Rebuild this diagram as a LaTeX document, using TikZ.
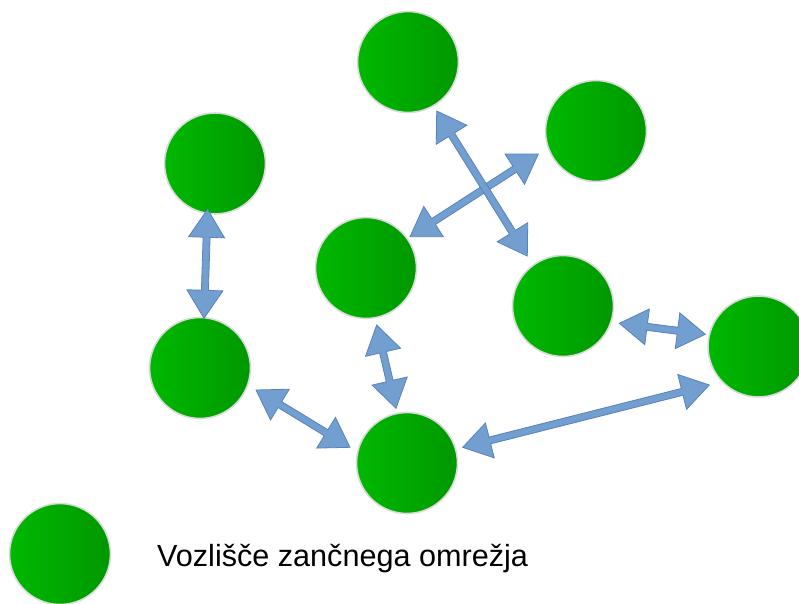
\documentclass[tikz,border=0pt]{standalone}
\usepackage{fontspec}
\setmainfont{Liberation Sans}
\usetikzlibrary{calc}
\definecolor{gleft}{RGB}{0,184,0}
\definecolor{gright}{RGB}{0,152,0}
\definecolor{rim}{RGB}{218,218,218}
\definecolor{arrfill}{RGB}{114,159,207}
\definecolor{arrline}{RGB}{88,130,190}
\tikzset{
  netnode/.style={circle, inner sep=0pt, minimum size=101pt, draw=rim, line width=1.6pt,
    left color=gleft, right color=gright},
  fatarrow/.style={fill=arrfill, draw=arrline, line width=0.8pt, line join=miter},
  legendtext/.style={anchor=base west, font=\fontsize{30.6}{36}\selectfont, text=black, inner sep=0pt}
}
\newcommand\fatarrowdraw[2]{%
  \path[fatarrow] let \p1=(#1), \p2=(#2),
      \n1={atan2(\y2-\y1,\x2-\x1)}, \n2={veclen(\x2-\x1,\y2-\y1)} in
    [shift={(\p1)}, rotate=\n1]
    (0,0) -- (28,18) -- (28,3.5) -- (\n2-28,3.5) -- (\n2-28,18) -- (\n2,0)
    -- (\n2-28,-18) -- (\n2-28,-3.5) -- (28,-3.5) -- (28,-18) -- cycle;}
\begin{document}
\begin{tikzpicture}[x=1pt,y=-1pt]
\useasboundingbox (0,0) rectangle (799,603);
% nodes
\node[netnode] (nA) at (408,62) {};
\node[netnode] (nB) at (596,131) {};
\node[netnode] (nC) at (215,163.5) {};
\node[netnode] (nD) at (366,268) {};
\node[netnode] (nE) at (563,306) {};
\node[netnode] (nF) at (758.5,346.5) {};
\node[netnode] (nG) at (200,368) {};
\node[netnode] (nH) at (407,463) {};
\node[netnode] (nL) at (60,554) {};
\node[legendtext] (nT) at (157,566) {Vozlišče zančnega omrežja};
% arrow ends
\coordinate (cg1) at (207.5,209.3);
\coordinate (cg2) at (204,318.3);
\coordinate (ae1) at (436.7,111);
\coordinate (ae2) at (527.3,256);
\coordinate (bd1) at (538.3,154);
\coordinate (bd2) at (410,236.7);
\coordinate (dh1) at (376.7,325);
\coordinate (dh2) at (396,408.3);
\coordinate (gh1) at (256,390);
\coordinate (gh2) at (350,447.3);
\coordinate (ef1) at (619.3,323.3);
\coordinate (ef2) at (705.3,334.3);
\coordinate (hf1) at (462.7,447.3);
\coordinate (hf2) at (709.3,385);
% arrows
\fatarrowdraw{cg1}{cg2}
\fatarrowdraw{bd1}{bd2}
\fatarrowdraw{ae1}{ae2}
\fatarrowdraw{dh1}{dh2}
\fatarrowdraw{gh1}{gh2}
\fatarrowdraw{ef1}{ef2}
\fatarrowdraw{hf1}{hf2}
\end{tikzpicture}
\end{document}
